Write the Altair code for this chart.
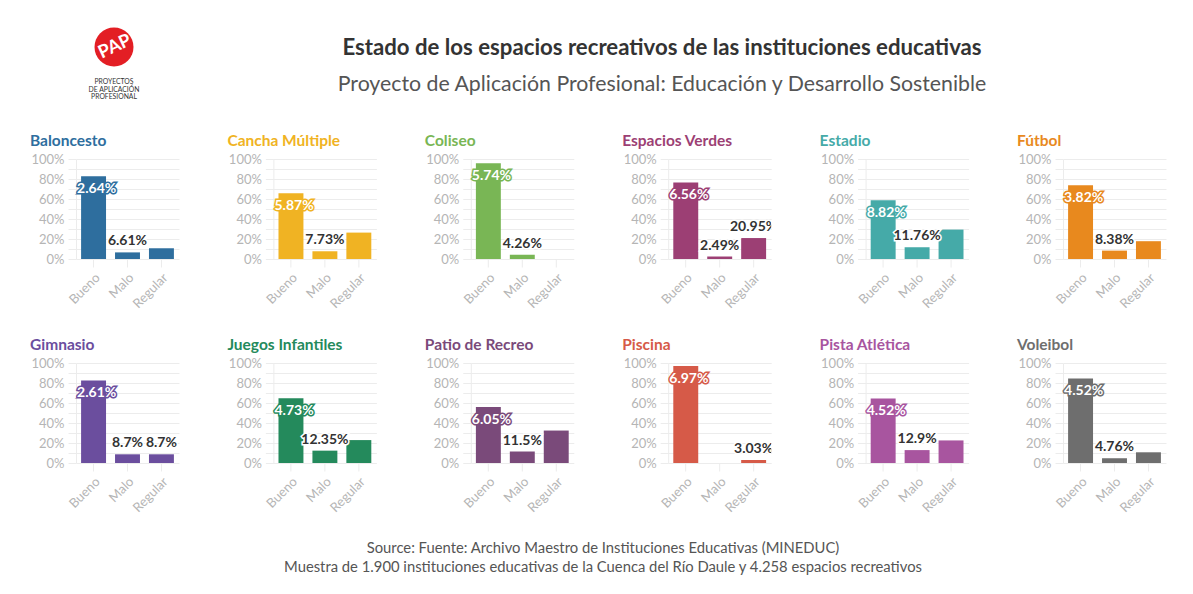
import altair as alt
import pandas as pd

FONT = "Lato"

categorias = ["Baloncesto", "Cancha Múltiple", "Coliseo", "Espacios Verdes", "Estadio", "Fútbol",
              "Gimnasio", "Juegos Infantiles", "Patio de Recreo", "Piscina", "Pista Atlética", "Voleibol"]
colores = ["#2e6e9e", "#f0b323", "#79b655", "#9c3f74", "#45aaa8", "#e8891e",
           "#6b4e9e", "#248a5c", "#7a4a7a", "#d65a48", "#a8559f", "#6e6e6e"]
estados = ["Bueno", "Malo", "Regular"]
bueno = [82.64, 65.87, 95.74, 76.56, 58.82, 73.82, 82.61, 64.73, 56.05, 96.97, 64.52, 84.52]
malo = [6.61, 7.73, 4.26, 2.49, 11.76, 8.38, 8.70, 12.35, 11.50, 0.0, 12.90, 4.76]
regular = [10.74, 26.40, 0.0, 20.95, 29.41, 17.80, 8.70, 22.92, 32.45, 3.03, 22.58, 10.71]
etiqueta_bueno = ["2.64%", "5.87%", "5.74%", "6.56%", "8.82%", "3.82%",
                  "2.61%", "4.73%", "6.05%", "6.97%", "4.52%", "4.52%"]
etiqueta_malo = ["6.61%", "7.73%", "4.26%", "2.49%", "11.76%", "8.38%",
                 "8.7%", "12.35%", "11.5%", "", "12.9%", "4.76%"]
etiqueta_regular = ["", "", "", "20.95%", "", "", "8.7%", "", "", "3.03%", "", ""]

titulo = "Estado de los espacios recreativos de las instituciones educativas"
subtitulo = "Proyecto de Aplicación Profesional: Educación y Desarrollo Sostenible"
fuente = "Source: Fuente: Archivo Maestro de Instituciones Educativas (MINEDUC)"
muestra = "Muestra de 1.900 instituciones educativas de la Cuenca del Río Daule y 4.258 espacios recreativos"
logo_lineas = ["PROYECTOS", "DE APLICACIÓN", "PROFESIONAL"]

GRID = "#ececec"
LABEL = "#b5b5b5"


def panel(i):
    df = pd.DataFrame({
        "estado": estados,
        "valor": [bueno[i], malo[i], regular[i]],
        "etiqueta": [etiqueta_bueno[i], etiqueta_malo[i], etiqueta_regular[i]],
    })
    color = colores[i]
    x = alt.X("estado:N", sort=estados, title=None,
              scale=alt.Scale(paddingInner=0.265, paddingOuter=0.15),
              axis=alt.Axis(labelAngle=315, labelColor=LABEL, labelFontSize=13, labelFont=FONT,
                            tickColor=GRID, tickSize=8, domain=False, labelPadding=4))
    y = alt.Y("valor:Q", title=None, scale=alt.Scale(domain=[0, 100]),
              axis=alt.Axis(values=list(range(0, 101, 10)),
                            labelExpr="datum.value % 20 == 0 ? datum.value + '%' : ''",
                            labelColor=LABEL, labelFontSize=13, labelFont=FONT,
                            gridColor=GRID, tickColor=GRID, tickSize=8, domainColor=GRID,
                            labelPadding=4, minExtent=46, maxExtent=46))
    base = alt.Chart(df).encode(x=x, y=y)
    bars = base.mark_bar(color=color)
    b = base.transform_filter("datum.estado == 'Bueno'")
    o = base.transform_filter("datum.estado != 'Bueno'")
    halo_b = b.mark_text(align="left", baseline="middle", dx=-16.5, dy=13, font=FONT,
                         fontSize=14, fontWeight="bold", stroke=color, strokeWidth=3,
                         color=color).encode(text="etiqueta:N")
    text_b = b.mark_text(align="left", baseline="middle", dx=-16.5, dy=13, font=FONT,
                         fontSize=14, fontWeight="bold", color="white").encode(text="etiqueta:N")
    halo_o = o.mark_text(align="center", baseline="bottom", dy=-4, font=FONT, fontSize=14,
                         fontWeight="bold", stroke="white", strokeWidth=3, color="white",
                         clip=True).encode(text="etiqueta:N")
    text_o = o.mark_text(align="center", baseline="bottom", dy=-4, font=FONT, fontSize=14,
                         fontWeight="bold", color="#333333", clip=True).encode(text="etiqueta:N")
    return alt.layer(bars, halo_b, text_b, halo_o, text_o).properties(
        width=103, height=100,
        title=alt.TitleParams(text=categorias[i], color=color, anchor="start", frame="bounds",
                              fontSize=15.5, font=FONT, fontWeight="bold", offset=4))


paneles = [panel(i) for i in range(12)]
fila1 = alt.hconcat(*paneles[:6], spacing=48.4)
fila2 = alt.hconcat(*paneles[6:], spacing=48.4)
grid = alt.vconcat(fila1, fila2, spacing=26)

one = pd.DataFrame({"k": [0]})
hb = alt.Chart(one)
logo = hb.mark_circle(size=1520, color="#e31e24", opacity=1).encode(x=alt.value(38), y=alt.value(39))
pap = hb.mark_text(text="PAP", color="white", fontSize=18, fontWeight="bold", font=FONT,
                   angle=335, align="center", baseline="middle").encode(x=alt.value(39), y=alt.value(39))
logo_txt = [hb.mark_text(text=t, color="#333333", fontSize=6.8, font=FONT, align="center",
                         baseline="middle").encode(x=alt.value(38), y=alt.value(74 + 7.5 * k))
            for k, t in enumerate(logo_lineas)]
t1 = hb.mark_text(text=titulo, color="#333333", fontSize=22.2, fontWeight="bold", font=FONT,
                  align="center", baseline="middle").encode(x=alt.value(586), y=alt.value(40))
t2 = hb.mark_text(text=subtitulo, color="#555555", fontSize=21.3, font=FONT,
                  align="center", baseline="middle").encode(x=alt.value(586), y=alt.value(77))
header = alt.layer(logo, pap, *logo_txt, t1, t2).properties(width=1100, height=125)

f1 = hb.mark_text(text=fuente, color="#555555", fontSize=14.8, font=FONT, align="center",
                  baseline="middle").encode(x=alt.value(527), y=alt.value(34))
f2 = hb.mark_text(text=muestra, color="#555555", fontSize=14.8, font=FONT, align="center",
                  baseline="middle").encode(x=alt.value(527), y=alt.value(53))
footer = alt.layer(f1, f2).properties(width=1100, height=60)

chart = alt.vconcat(header, grid, footer, spacing=0).properties(
    padding={"left": 22, "top": 0, "right": 0, "bottom": 0}
).configure(font=FONT, view=alt.ViewConfig(stroke=None))

chart.save("out.html", embed_options={"renderer": "svg", "actions": False})
